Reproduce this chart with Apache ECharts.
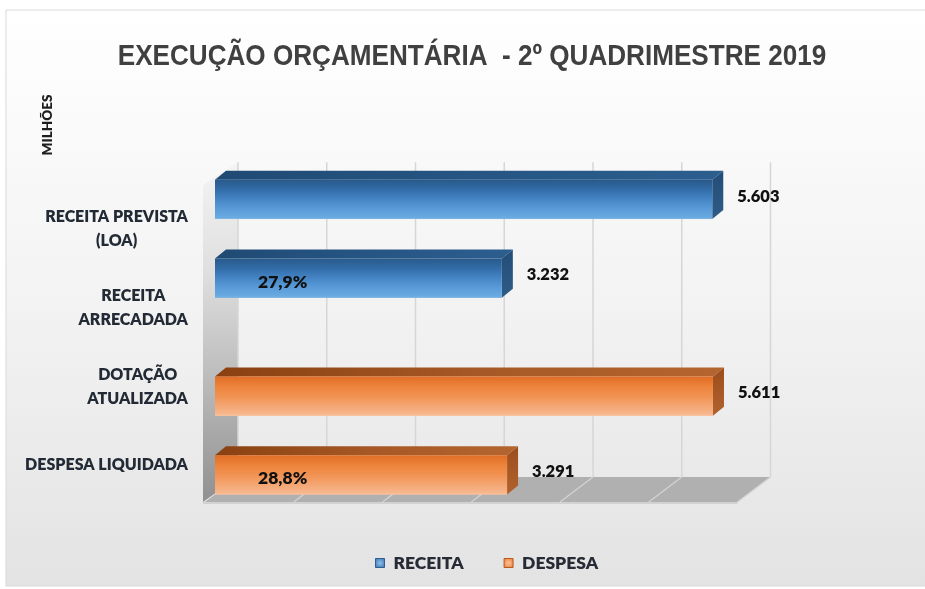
<!DOCTYPE html>
<html>
<head>
<meta charset="utf-8">
<script src="https://cdn.jsdelivr.net/npm/echarts@6/dist/echarts.min.js"></script>
<style>
  html, body { margin: 0; padding: 0; background: #fff; }
  #chart { width: 925px; height: 589px; }
</style>
</head>
<body>
<div id="chart"></div>
<script>
// dados (milhões)
const categories = ['RECEITA PREVISTA\n(LOA)', 'RECEITA\nARRECADADA', 'DOTAÇÃO\nATUALIZADA', 'DESPESA LIQUIDADA'];
const receitaValues = [5603, 3232, null, null];
const despesaValues = [null, null, 5611, 3291];
const receitaPct = ['', '27,9%', '', ''];
const despesaPct = ['', '', '', '28,8%'];
const axisTicks = [0, 1000, 2000, 3000, 4000, 5000, 6000];

const FONT = 'Lato';
const W = 800;
// deslocamentos da perspectiva 3D (plano frontal das barras -> parede / chão)
const BACK = [23, -17.5];
const FRONT = [-10, 7.5];
const DEPTH = [11, -9];

function fmt(v) {
  return String(v).replace(/\B(?=(\d{3})+(?!\d))/g, '.');
}

const lin = (x, y, x2, y2, stops) => new echarts.graphic.LinearGradient(x, y, x2, y2,
  stops.map((c, i) => ({ offset: i / (stops.length - 1), color: c })));

const palette = {
  RECEITA: {
    front: lin(0, 0, 0, 1, ['#29598a', '#326ca7', '#4585c5', '#5a9cd8', '#6cade3']),
    top: lin(0, 0, 1, 0, ['#1f4a74', '#265583', '#2b5e8f']),
    side: lin(0, 0, 0, 1, ['#234d78', '#2f5b87']),
    edge: '#7fb3e0'
  },
  DESPESA: {
    front: lin(0, 0, 0, 1, ['#e06d25', '#ed833b', '#f19252', '#f4a673', '#f7ba92']),
    top: lin(0, 0, 1, 0, ['#8a4011', '#a55825', '#b4652f']),
    side: lin(0, 0, 0, 1, ['#9c4d1c', '#b0622e']),
    edge: '#f7c3a0'
  }
};

function makeBars(name, values, pcts, shift) {
  const colors = palette[name];
  return {
    name: name,
    type: 'custom',
    z: 5,
    itemStyle: { color: name === 'RECEITA' ? '#3f7fbf' : '#f0883e' },
    encode: { x: 0, y: 1 },
    data: values.map((v, i) => v == null ? null : [v, i]).filter(Boolean),
    renderItem: function (params, api) {
      const v = api.value(0);
      const cat = api.value(1);
      const start = api.coord([0, cat]);
      const end = api.coord([v, cat]);
      const band = api.size([0, 1])[1];
      const h = band * 0.5;
      const cy = start[1] + shift * band / 4;
      const x0 = start[0], x1 = end[0];
      const y0 = cy - h / 2, y1 = cy + h / 2;
      const dx = DEPTH[0], dy = DEPTH[1];
      const children = [
        { type: 'polygon', shape: { points: [[x0, y0], [x0 + dx, y0 + dy], [x1 + dx, y0 + dy], [x1, y0]] },
          style: { fill: colors.top } },
        { type: 'polygon', shape: { points: [[x1, y0], [x1 + dx, y0 + dy], [x1 + dx, y1 + dy], [x1, y1]] },
          style: { fill: colors.side } },
        { type: 'rect', shape: { x: x0, y: y0, width: x1 - x0, height: h },
          style: { fill: colors.front } },
        { type: 'line', shape: { x1: x0, y1: y1 - 0.5, x2: x1, y2: y1 - 0.5 },
          style: { stroke: colors.edge, lineWidth: 1 } },
        { type: 'text', x: x1 + 25, y: cy - 3,
          style: { text: fmt(v), fill: '#111', font: W + ' 16.5px ' + FONT, align: 'left', verticalAlign: 'middle' } }
      ];
      if (pcts[cat]) {
        children.push({ type: 'text', x: x0 + 43, y: cy + 4,
          style: { text: pcts[cat], fill: '#111', font: W + ' 17.5px ' + FONT, align: 'left', verticalAlign: 'middle' } });
      }
      return { type: 'group', children: children };
    }
  };
}

const wallSeries = {
  type: 'custom',
  silent: true,
  z: 1,
  encode: { x: 0, y: 1 },
  data: axisTicks.map(t => [t, 0]),
  renderItem: function (params, api) {
    const cs = params.coordSys;
    const top = cs.y, bottom = cs.y + cs.height, left = cs.x;
    const px = api.coord([api.value(0), 0])[0];
    const children = [];
    if (params.dataIndex === 0) {
      const endX = api.coord([axisTicks[axisTicks.length - 1], 0])[0];
      children.push({
        type: 'polygon',
        shape: { points: [[left + FRONT[0] - 2, top + FRONT[1] - 2], [left + BACK[0], top + BACK[1]],
          [left + BACK[0], bottom + BACK[1]], [left + FRONT[0] - 2, bottom + FRONT[1]]] },
        style: { fill: lin(0, 0, 0, 1, ['#f4f4f4', '#dedede', '#b8b8b8', '#909090']) }
      });
      children.push({
        type: 'polygon',
        shape: { points: [[left + FRONT[0], bottom + FRONT[1]], [endX + FRONT[0], bottom + FRONT[1]],
          [endX + BACK[0], bottom + BACK[1]], [left + BACK[0], bottom + BACK[1]]] },
        style: { fill: '#b0b0b0' }
      });
      children.push({
        type: 'line',
        shape: { x1: left + FRONT[0] - 2, y1: bottom + FRONT[1] + 1, x2: endX + FRONT[0], y2: bottom + FRONT[1] + 1 },
        style: { stroke: '#d2d2d2', lineWidth: 2 }
      });
    }
    children.push({
      type: 'line',
      shape: { x1: px + BACK[0], y1: top + BACK[1], x2: px + BACK[0], y2: bottom + BACK[1] },
      style: { stroke: '#d6d6d6', lineWidth: 1.5 }
    });
    if (params.dataIndex > 0) {
      children.push({
        type: 'line',
        shape: { x1: px + FRONT[0], y1: bottom + FRONT[1], x2: px + BACK[0], y2: bottom + BACK[1] },
        style: { stroke: '#d4d4d4', lineWidth: 1.2 }
      });
    }
    return { type: 'group', children: children };
  }
};

const chart = echarts.init(document.getElementById('chart'));

const option = {
  backgroundColor: '#ffffff',
  animation: false,
  graphic: [
    {
      type: 'rect', z: -10, silent: true,
      shape: { x: 6, y: 10, width: 940, height: 576 },
      style: { fill: lin(0, 0, 0, 1, ['#ffffff', '#f3f3f3', '#e3e3e3']), stroke: '#d9d9d9', lineWidth: 1 }
    },
    {
      // título (fonte estreita simulada)
      type: 'text', z: 10, x: 472, y: 57, scaleX: 0.87,
      style: { text: 'EXECUÇÃO ORÇAMENTÁRIA  - 2º QUADRIMESTRE 2019', font: 'bold 30px "Liberation Sans"',
        fill: '#404040', align: 'center', verticalAlign: 'middle' }
    },
    {
      type: 'text', z: 10, x: 48, y: 125, rotation: Math.PI / 2,
      style: { text: 'MILHÕES', font: W + ' 13.5px ' + FONT, fill: '#1e1e1e', align: 'center', verticalAlign: 'middle' }
    }
  ],
  legend: {
    left: 370,
    top: 549,
    icon: 'rect',
    itemWidth: 9,
    itemHeight: 9,
    itemGap: 40,
    textStyle: { fontFamily: FONT, fontWeight: W, fontSize: 17.5, color: '#262b35', padding: [0, 0, 0, 4] },
    data: [
      { name: 'RECEITA', itemStyle: { color: new echarts.graphic.RadialGradient(0.5, 0.5, 0.7, [
        { offset: 0, color: '#8dbfec' }, { offset: 1, color: '#2f6aa6' }]), borderColor: '#2c5f91', borderWidth: 1 } },
      { name: 'DESPESA', itemStyle: { color: new echarts.graphic.RadialGradient(0.5, 0.5, 0.7, [
        { offset: 0, color: '#fbc29a' }, { offset: 1, color: '#e9762c' }]), borderColor: '#b9581d', borderWidth: 1 } }
    ]
  },
  grid: {
    left: 215,
    right: 177.5,
    top: 179.7,
    bottom: 94.5
  },
  xAxis: {
    type: 'value',
    min: 0,
    max: 6000,
    interval: 1000,
    axisLabel: { show: false },
    axisLine: { show: false },
    axisTick: { show: false },
    splitLine: { show: false }
  },
  yAxis: {
    type: 'category',
    inverse: true,
    data: categories,
    axisLine: { show: false },
    axisTick: { show: false },
    axisLabel: {
      margin: 27,
      align: 'right',
      padding: [20, 0, 0, 0],
      formatter: v => v.split('\n').map(s => '{c|' + s + '}').join('\n'),
      rich: {
        c: { align: 'center', fontFamily: FONT, fontWeight: W, fontSize: 16, lineHeight: 24, color: '#222a35' }
      }
    }
  },
  series: [
    wallSeries,
    makeBars('RECEITA', receitaValues, receitaPct, -1),
    makeBars('DESPESA', despesaValues, despesaPct, 1)
  ]
};

chart.setOption(option);
</script>
</body>
</html>
